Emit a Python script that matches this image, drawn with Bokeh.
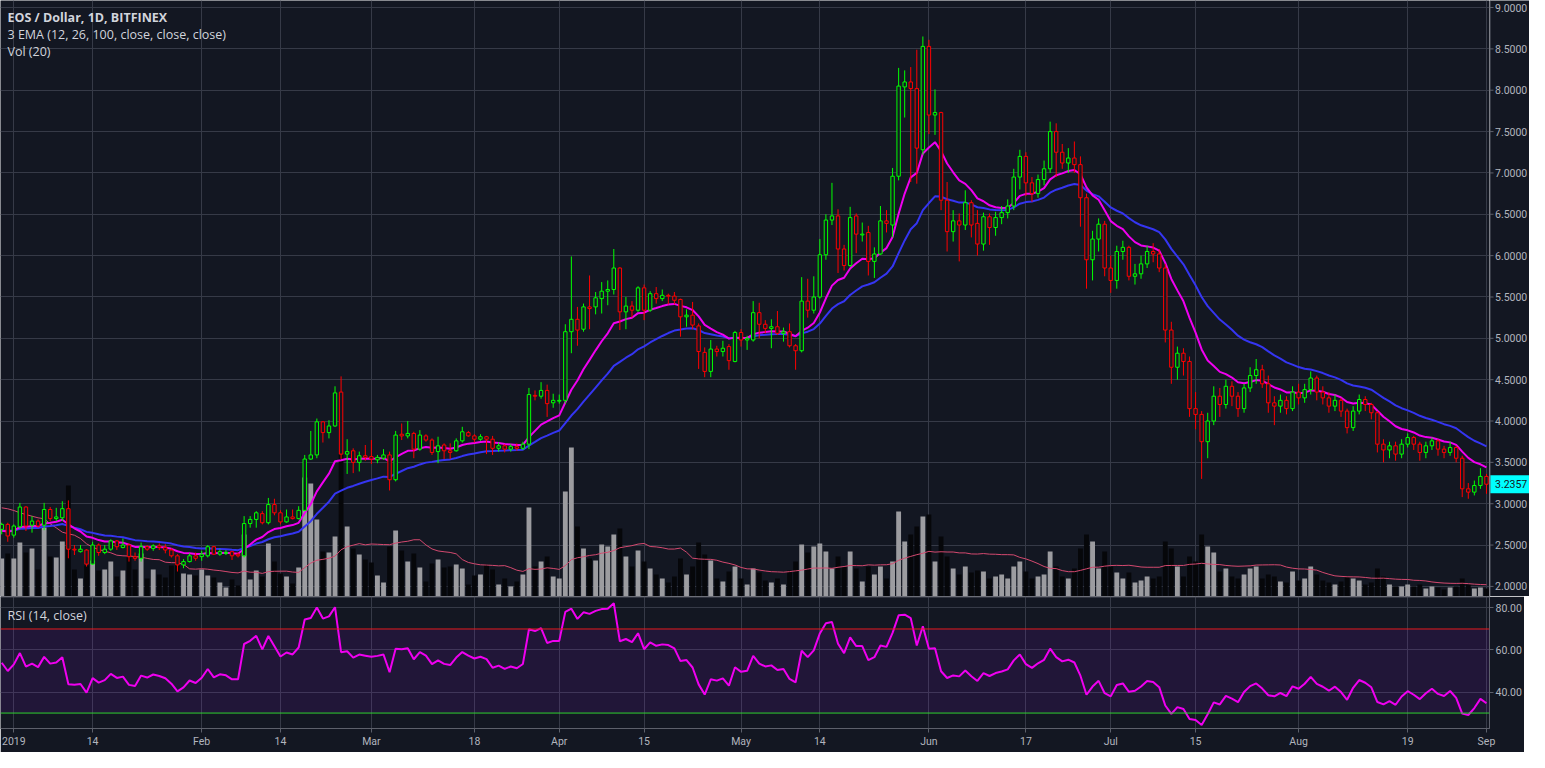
import numpy as np
import pandas as pd
from bokeh.plotting import figure
from bokeh.models import (Range1d, FixedTicker, ColumnDataSource, Label, Grid,
                          BoxAnnotation, Span, NumeralTickFormatter)
from bokeh.layouts import column, row
from bokeh.embed import file_html
from bokeh.resources import INLINE
from bokeh.core.properties import value

# ---------------- data (EOS / USD, daily, Bitfinex) ----------------
first_date = "2018-12-30"

opens = [2.69, 2.75, 2.62, 2.72, 2.96, 2.74, 2.79, 2.74, 2.93, 2.82,
         2.83, 2.94, 2.45, 2.42, 2.44, 2.27, 2.50, 2.41, 2.45, 2.55,
         2.47, 2.50, 2.36, 2.34, 2.48, 2.46, 2.49, 2.47, 2.44, 2.37,
         2.26, 2.30, 2.37, 2.36, 2.37, 2.48, 2.39, 2.40, 2.42, 2.39,
         2.37, 2.76, 2.81, 2.88, 2.77, 2.99, 2.89, 2.78, 2.84, 2.82,
         2.92, 3.54, 3.59, 3.99, 3.86, 3.94, 4.35, 3.60, 3.64, 3.50,
         3.58, 3.57, 3.53, 3.55, 3.59, 3.29, 3.84, 3.82, 3.85, 3.66,
         3.82, 3.77, 3.63, 3.71, 3.64, 3.64, 3.76, 3.86, 3.82, 3.78,
         3.81, 3.78, 3.67, 3.70, 3.66, 3.69, 3.67, 3.72, 4.31, 4.30,
         4.37, 4.22, 4.24, 4.25, 5.08, 5.23, 5.11, 5.38, 5.38, 5.48,
         5.57, 5.59, 5.85, 5.32, 5.39, 5.34, 5.61, 5.34, 5.54, 5.48,
         5.52, 5.51, 5.47, 5.26, 5.28, 5.15, 4.83, 4.60, 4.87, 4.84,
         4.90, 4.72, 5.07, 4.98, 4.98, 5.31, 5.17, 5.12, 5.14, 5.06,
         5.08, 4.91, 4.85, 5.45, 5.34, 5.50, 6.01, 6.43, 6.48, 6.08,
         5.88, 6.48, 6.25, 6.28, 5.93, 6.02, 6.42, 6.37, 6.96, 8.04,
         8.10, 8.02, 7.28, 8.53, 7.70, 7.73, 6.67, 6.29, 6.42, 6.37,
         6.64, 6.39, 6.14, 6.47, 6.34, 6.46, 6.52, 6.60, 6.95, 7.20,
         6.88, 6.75, 6.92, 7.05, 7.50, 7.25, 7.12, 7.18, 7.10, 6.70,
         5.95, 6.20, 6.38, 5.85, 5.70, 6.05, 6.10, 5.75, 5.78, 5.90,
         6.05, 6.02, 5.85, 5.10, 4.65, 4.82, 4.72, 4.15, 4.08, 3.75,
         4.00, 4.30, 4.20, 4.42, 4.30, 4.15, 4.40, 4.55, 4.62, 4.45,
         4.22, 4.18, 4.25, 4.15, 4.35, 4.28, 4.38, 4.52, 4.35, 4.28,
         4.18, 4.25, 4.12, 3.92, 4.12, 4.26, 4.20, 4.10, 3.72, 3.65,
         3.70, 3.60, 3.72, 3.80, 3.72, 3.62, 3.70, 3.76, 3.66, 3.62,
         3.68, 3.55, 3.18, 3.14, 3.22, 3.33]

highs = [2.77, 2.77, 2.75, 3.01, 2.97, 2.85, 2.81, 3.01, 2.96, 2.95,
         3.03, 3.04, 2.50, 2.50, 2.45, 2.54, 2.52, 2.50, 2.57, 2.56,
         2.58, 2.52, 2.41, 2.53, 2.50, 2.51, 2.52, 2.51, 2.46, 2.39,
         2.33, 2.40, 2.41, 2.43, 2.50, 2.49, 2.45, 2.44, 2.43, 2.41,
         2.85, 2.85, 2.91, 2.91, 3.07, 3.06, 2.92, 2.93, 2.93, 2.97,
         3.59, 3.88, 4.03, 4.00, 4.01, 4.42, 4.54, 3.78, 3.67, 3.63,
         3.71, 3.77, 3.59, 3.66, 3.63, 3.88, 3.97, 4.00, 3.87, 3.89,
         3.84, 3.79, 3.81, 3.73, 3.73, 3.79, 3.93, 3.88, 3.84, 3.84,
         3.82, 3.82, 3.74, 3.72, 3.72, 3.73, 3.75, 4.40, 4.37, 4.47,
         4.44, 4.33, 4.32, 5.17, 5.99, 5.38, 5.42, 5.76, 5.56, 5.68,
         5.70, 6.08, 5.86, 5.50, 5.45, 5.63, 5.65, 5.57, 5.62, 5.59,
         5.54, 5.56, 5.48, 5.35, 5.44, 5.18, 4.89, 4.98, 4.91, 4.97,
         4.93, 5.09, 5.11, 5.03, 5.45, 5.43, 5.22, 5.23, 5.33, 5.13,
         5.18, 4.93, 5.74, 5.72, 5.75, 6.20, 6.50, 6.88, 6.56, 6.13,
         6.59, 6.51, 6.40, 6.36, 6.10, 6.60, 6.55, 7.06, 8.27, 8.24,
         8.28, 8.49, 8.65, 8.61, 8.01, 7.74, 6.89, 6.55, 6.51, 6.79,
         6.67, 6.55, 6.52, 6.51, 6.53, 6.60, 6.68, 7.05, 7.28, 7.25,
         6.95, 6.98, 7.15, 7.62, 7.60, 7.35, 7.30, 7.38, 7.20, 6.75,
         6.30, 6.45, 6.42, 6.00, 6.12, 6.18, 6.12, 5.90, 6.00, 6.12,
         6.15, 6.08, 5.90, 5.20, 4.90, 4.88, 4.78, 4.35, 4.12, 4.10,
         4.42, 4.40, 4.50, 4.48, 4.35, 4.45, 4.65, 4.75, 4.68, 4.55,
         4.30, 4.32, 4.30, 4.42, 4.45, 4.45, 4.60, 4.55, 4.42, 4.35,
         4.32, 4.28, 4.15, 4.18, 4.32, 4.30, 4.22, 4.12, 3.78, 3.75,
         3.75, 3.78, 3.85, 3.82, 3.75, 3.75, 3.80, 3.78, 3.70, 3.75,
         3.70, 3.58, 3.25, 3.28, 3.43, 3.36]

lows = [2.63, 2.54, 2.59, 2.70, 2.67, 2.65, 2.71, 2.68, 2.79, 2.79,
        2.79, 2.34, 2.38, 2.41, 2.24, 2.26, 2.37, 2.39, 2.43, 2.44,
        2.46, 2.30, 2.31, 2.30, 2.43, 2.43, 2.44, 2.40, 2.35, 2.18,
        2.22, 2.29, 2.31, 2.31, 2.35, 2.38, 2.37, 2.38, 2.32, 2.35,
        2.35, 2.71, 2.71, 2.75, 2.75, 2.86, 2.75, 2.77, 2.81, 2.81,
        2.91, 3.53, 3.55, 3.74, 3.79, 3.93, 3.54, 3.36, 3.37, 3.39,
        3.52, 3.48, 3.49, 3.53, 3.16, 3.27, 3.77, 3.79, 3.55, 3.64,
        3.75, 3.59, 3.49, 3.54, 3.54, 3.63, 3.74, 3.81, 3.74, 3.76,
        3.60, 3.59, 3.63, 3.62, 3.63, 3.64, 3.65, 3.66, 4.25, 4.27,
        4.05, 4.16, 4.21, 4.21, 4.82, 4.91, 5.08, 5.11, 5.29, 5.30,
        5.40, 5.53, 5.10, 5.11, 5.25, 5.32, 5.22, 5.32, 5.42, 5.45,
        5.41, 5.41, 5.02, 5.14, 5.11, 4.63, 4.53, 4.53, 4.78, 4.78,
        4.62, 4.71, 4.90, 4.86, 4.96, 5.00, 5.06, 4.88, 5.04, 4.96,
        4.89, 4.62, 4.83, 5.25, 5.30, 5.48, 5.95, 6.37, 5.79, 5.82,
        5.86, 6.03, 6.17, 5.76, 5.73, 6.01, 6.28, 6.22, 6.91, 7.67,
        6.89, 6.87, 7.22, 7.47, 7.46, 6.55, 6.05, 6.17, 5.93, 6.31,
        6.22, 6.00, 6.06, 6.13, 6.24, 6.38, 6.45, 6.55, 6.80, 6.72,
        6.65, 6.70, 6.85, 7.00, 6.95, 7.05, 7.00, 7.00, 6.35, 5.60,
        5.70, 6.05, 5.75, 5.55, 5.60, 5.95, 5.70, 5.65, 5.72, 5.85,
        5.92, 5.80, 4.95, 4.45, 4.50, 4.55, 4.05, 3.90, 3.30, 3.55,
        3.95, 4.05, 4.15, 4.18, 4.05, 4.10, 4.35, 4.45, 4.40, 4.10,
        3.95, 4.10, 4.08, 4.12, 4.20, 4.22, 4.32, 4.25, 4.20, 4.10,
        4.12, 4.05, 3.85, 3.88, 4.08, 4.12, 4.02, 3.62, 3.50, 3.55,
        3.52, 3.55, 3.68, 3.65, 3.52, 3.55, 3.65, 3.58, 3.55, 3.58,
        3.50, 3.08, 3.06, 3.10, 3.18, 3.12]

closes = [2.75, 2.61, 2.73, 2.96, 2.73, 2.79, 2.73, 2.93, 2.82, 2.84,
          2.94, 2.45, 2.44, 2.45, 2.27, 2.50, 2.41, 2.45, 2.55, 2.48,
          2.50, 2.36, 2.34, 2.48, 2.45, 2.49, 2.47, 2.44, 2.37, 2.26,
          2.30, 2.37, 2.34, 2.39, 2.48, 2.39, 2.42, 2.41, 2.37, 2.37,
          2.76, 2.81, 2.89, 2.77, 2.99, 2.89, 2.78, 2.84, 2.82, 2.92,
          3.54, 3.59, 3.99, 3.86, 3.94, 4.34, 3.60, 3.63, 3.50, 3.58,
          3.56, 3.54, 3.56, 3.59, 3.29, 3.83, 3.82, 3.85, 3.66, 3.83,
          3.77, 3.62, 3.70, 3.64, 3.62, 3.76, 3.87, 3.82, 3.78, 3.81,
          3.78, 3.67, 3.70, 3.66, 3.69, 3.67, 3.72, 4.32, 4.30, 4.37,
          4.21, 4.25, 4.25, 5.08, 5.23, 5.10, 5.38, 5.36, 5.49, 5.57,
          5.59, 5.85, 5.32, 5.39, 5.34, 5.61, 5.34, 5.54, 5.48, 5.52,
          5.51, 5.46, 5.26, 5.28, 5.16, 4.84, 4.60, 4.87, 4.84, 4.88,
          4.73, 5.07, 4.98, 5.00, 5.31, 5.17, 5.12, 5.14, 5.06, 5.08,
          4.91, 4.85, 5.45, 5.34, 5.50, 6.01, 6.43, 6.48, 6.08, 5.88,
          6.46, 6.26, 6.26, 5.93, 6.02, 6.42, 6.39, 6.96, 8.05, 8.10,
          8.02, 7.30, 8.53, 7.70, 7.73, 6.67, 6.29, 6.42, 6.37, 6.64,
          6.37, 6.14, 6.47, 6.34, 6.46, 6.52, 6.60, 6.95, 7.20, 6.88,
          6.75, 6.92, 7.05, 7.50, 7.25, 7.12, 7.18, 7.10, 6.70, 5.95,
          6.20, 6.38, 5.85, 5.70, 6.05, 6.10, 5.75, 5.78, 5.90, 6.05,
          6.02, 5.85, 5.10, 4.65, 4.82, 4.72, 4.15, 4.08, 3.75, 4.00,
          4.30, 4.20, 4.42, 4.30, 4.15, 4.40, 4.55, 4.62, 4.45, 4.22,
          4.18, 4.25, 4.15, 4.35, 4.28, 4.38, 4.52, 4.35, 4.28, 4.18,
          4.25, 4.12, 3.92, 4.12, 4.26, 4.20, 4.10, 3.72, 3.65, 3.70,
          3.60, 3.72, 3.80, 3.72, 3.62, 3.70, 3.76, 3.66, 3.62, 3.68,
          3.55, 3.18, 3.14, 3.22, 3.33, 3.2357]

volumes = [38, 43, 38, 54, 44, 48, 27, 69, 40, 39,
           55, 111, 27, 18, 31, 36, 26, 27, 35, 20,
           26, 39, 27, 43, 18, 27, 22, 19, 31, 36,
           23, 22, 21, 27, 21, 19, 14, 9, 17, 11,
           62, 17, 26, 20, 53, 35, 23, 20, 13, 29,
           119, 113, 77, 45, 44, 60, 142, 70, 48, 42,
           37, 34, 21, 14, 50, 66, 46, 35, 43, 29,
           15, 33, 37, 29, 30, 32, 28, 12, 21, 22,
           32, 27, 12, 18, 10, 15, 22, 89, 30, 35,
           40, 20, 18, 105, 149, 70, 48, 38, 36, 52,
           50, 62, 68, 40, 30, 46, 35, 28, 22, 18,
           14, 20, 38, 22, 30, 54, 42, 36, 18, 15,
           25, 30, 18, 12, 28, 24, 16, 14, 18, 12,
           26, 35, 52, 44, 50, 53, 45, 28, 40, 30,
           45, 28, 15, 30, 22, 30, 18, 35, 85, 55,
           62, 70, 80, 82, 35, 60, 40, 28, 22, 30,
           24, 26, 25, 18, 20, 22, 18, 30, 35, 25,
           18, 20, 22, 45, 30, 20, 18, 28, 48, 62,
           55, 28, 45, 30, 24, 18, 24, 14, 16, 20,
           18, 20, 55, 48, 30, 20, 40, 35, 62, 50,
           44, 25, 28, 20, 18, 22, 28, 30, 18, 22,
           20, 15, 14, 25, 16, 18, 30, 22, 16, 14,
           12, 15, 20, 18, 16, 12, 14, 28, 20, 12,
           10, 10, 12, 10, 12, 8, 10, 9, 7, 9,
           10, 18, 12, 8, 9, 8]

# Vol(20) moving average as shown for the first 19 sessions (history before the window)
vol_ma_head = [88.7, 87.7, 86.0, 83.7, 82.0, 80.3, 78.7, 77.7, 72.7, 68.7,
               64.3, 62.7, 61.3, 58.0, 52.7, 49.3, 47.0, 45.3, 43.7]

ema12_start = 2.66   # EMA values at the left edge
ema26_start = 2.67
rsi_start_gain = 0.075
rsi_start_loss = 0.068

price_ticks = [2.0, 2.5, 3.0, 3.5, 4.0, 4.5, 5.0, 5.5, 6.0, 6.5, 7.0, 7.5, 8.0, 8.5, 9.0]
price_tick_labels = ["2.0000", "2.5000", "3.0000", "3.5000", "4.0000", "4.5000", "5.0000",
                     "5.5000", "6.0000", "6.5000", "7.0000", "7.5000", "8.0000", "8.5000", "9.0000"]
rsi_ticks = [40, 60, 80]
time_tick_days = [0, 13, 31, 44, 59, 76, 90, 104, 120, 133, 151, 167, 181, 195, 212, 230, 243]
time_tick_labels = ["2019", "14", "Feb", "14", "Mar", "18", "Apr", "15", "May",
                    "14", "Jun", "17", "Jul", "15", "Aug", "19", "Sep"]
last_price = [3.2357]
last_price_label = ["3.2357"]

# ---------------- indicators ----------------
n = len(closes)
dates = pd.date_range(first_date, periods=n, freq="D")
days = np.asarray((dates - pd.Timestamp("2019-01-01")).days, dtype=float)


def ema(vals, span, seed):
    a = 2.0 / (span + 1)
    out, e = [], seed
    for v in vals:
        e = a * v + (1 - a) * e
        out.append(e)
    return out


def rsi_wilder(vals, prev, period, g0, l0):
    ag, al = g0, l0
    out = []
    for v in vals:
        ch = v - prev
        prev = v
        ag = (ag * (period - 1) + max(ch, 0)) / period
        al = (al * (period - 1) + max(-ch, 0)) / period
        out.append(100.0 if al == 0 else 100 - 100 / (1 + ag / al))
    return out


ema12 = ema(closes, 12, ema12_start)
ema26 = ema(closes, 26, ema26_start)
rsi = rsi_wilder(closes, opens[0], 14, rsi_start_gain, rsi_start_loss)
vol_ma = list(vol_ma_head) + [float(np.mean(volumes[i - 19:i + 1])) for i in range(len(vol_ma_head), n)]

UP, DOWN = "#00ff00", "#ff0000"
BG = "#131722"
GRID = "#363a47"
AXIS = "#5d606b"
TXT = "#b2b5be"
FONT = "Roboto"

up = [c >= o for o, c in zip(opens, closes)]
src = ColumnDataSource(dict(
    x=days, o=opens, h=highs, l=lows, c=closes,
    top=[max(o, c) for o, c in zip(opens, closes)],
    bot=[min(o, c) for o, c in zip(opens, closes)],
    col=[UP if u else DOWN for u in up],
    vol=volumes,
    vcol=["#9c9ca0" if u else "#06070a" for u in up],
    volma=vol_ma, e12=ema12, e26=ema26, rsi=rsi,
))

FRAME_W = 1489
SIDE_W = 40
MAIN_H = 596
x_range = Range1d(-2.2, 243.5)
price_range = Range1d(1.878, 9.085)


def base_fig(**kw):
    return figure(output_backend="svg", toolbar_location=None,
                  min_border_left=0, min_border_right=0, min_border_top=0, min_border_bottom=0,
                  background_fill_color=BG, border_fill_color=BG, outline_line_color=None, **kw)


# ---------------- main pane ----------------
p = base_fig(frame_width=FRAME_W, frame_height=MAIN_H, x_range=x_range, y_range=price_range,
             x_axis_location=None, y_axis_location=None)
p.extra_y_ranges = {"vol": Range1d(0, MAIN_H)}
for g in p.grid:
    g.visible = False
p.add_layout(Grid(dimension=0, ticker=FixedTicker(ticks=time_tick_days), grid_line_color=GRID))
p.add_layout(Grid(dimension=1, ticker=FixedTicker(ticks=price_ticks), grid_line_color=GRID))

p.vbar(x="x", top="vol", bottom=0, width=0.8, y_range_name="vol",
       fill_color="vcol", line_color=None, source=src)
p.line("x", "volma", y_range_name="vol", line_color="#d4496f", line_width=1, source=src)
p.line("x", "e26", line_color="#3535f2", line_width=2, source=src)
p.line("x", "e12", line_color="#f000f0", line_width=2, source=src)
p.segment(x0="x", y0="l", x1="x", y1="h", line_color="col", line_width=1, source=src)
p.vbar(x="x", top="top", bottom="bot", width=0.56, fill_color=BG,
       line_color="col", line_width=1, source=src)

p.add_layout(Label(x=-2.2, y=8.88, x_offset=7, text="EOS / Dollar, 1D, BITFINEX",
                   text_color="#d1d4dc", text_font="Open Sans", text_font_size="12.5px",
                   text_font_style="bold", text_baseline="middle"))
p.add_layout(Label(x=-2.2, y=8.674, x_offset=7, text="3 EMA (12, 26, 100, close, close, close)",
                   text_color="#d1d4dc", text_font="Open Sans", text_font_size="12.5px",
                   text_baseline="middle"))
p.add_layout(Label(x=-2.2, y=8.468, x_offset=7, text="Vol (20)", text_color="#d1d4dc",
                   text_font="Open Sans", text_font_size="12.5px", text_baseline="middle"))

# ---------------- price scale (right) ----------------
s = base_fig(frame_width=SIDE_W, frame_height=MAIN_H, x_range=Range1d(0, SIDE_W),
             y_range=price_range, x_axis_location=None, y_axis_location=None)
for g in s.grid:
    g.visible = False
s.add_layout(Span(location=0.5, dimension="height", line_color=AXIS, line_width=1))
s.segment(x0=0, y0=price_ticks, x1=4, y1=price_ticks, line_color=AXIS, line_width=1)
s.text(x=5.5, y=price_ticks, text=price_tick_labels, text_color=TXT, text_font=value(FONT),
       text_font_size="10.5px", text_baseline="middle", text_align="left")
s.rect(x=SIDE_W / 2 + 0.5, y=last_price, width=SIDE_W, height=18, height_units="screen",
       fill_color="#00ffff", line_color=None)
s.text(x=5.5, y=last_price, text=last_price_label, text_color="#131722", text_font=value(FONT),
       text_font_size="10.5px", text_baseline="middle", text_align="left")

# ---------------- RSI pane ----------------
r = base_fig(frame_width=FRAME_W, frame_height=132, x_range=x_range,
             y_range=Range1d(22.65, 85.45), y_axis_location="right")
r.min_border_bottom = 24
r.yaxis.ticker = FixedTicker(ticks=rsi_ticks)
r.yaxis.formatter = NumeralTickFormatter(format="0.00")
r.xaxis.ticker = FixedTicker(ticks=time_tick_days)
r.xaxis.major_label_overrides = {d: lab for d, lab in zip(time_tick_days, time_tick_labels)}
for ax in [r.yaxis[0], r.xaxis[0]]:
    ax.axis_line_color = AXIS
    ax.major_tick_line_color = AXIS
    ax.minor_tick_line_color = None
    ax.major_tick_out = 4
    ax.major_tick_in = 0
    ax.major_label_standoff = 2
    ax.major_label_text_color = TXT
    ax.major_label_text_font = FONT
    ax.major_label_text_font_size = "10.5px"
r.xgrid.ticker = FixedTicker(ticks=time_tick_days)
r.xgrid.grid_line_color = GRID
r.ygrid.ticker = FixedTicker(ticks=rsi_ticks)
r.ygrid.grid_line_color = GRID

r.add_layout(BoxAnnotation(bottom=30, top=70, fill_color="#9915ff", fill_alpha=0.1,
                           line_color=None, level="underlay"))
r.add_layout(Span(location=70, dimension="width", line_color="#e51c1c", line_width=1))
r.add_layout(Span(location=30, dimension="width", line_color="#2fd12f", line_width=1))
r.add_layout(Span(location=85.45, dimension="width", line_color="#50535e", line_width=2))
r.line("x", "rsi", line_color="#f000f0", line_width=2, source=src)
r.add_layout(Label(x=-2.2, y=76.5, x_offset=7, text="RSI (14, close)", text_color="#d1d4dc",
                   text_font="Open Sans", text_font_size="12.5px", text_baseline="middle"))

layout = column(row(p, s, spacing=0), r, spacing=0)
open("out.html", "w").write(file_html(layout, INLINE))
